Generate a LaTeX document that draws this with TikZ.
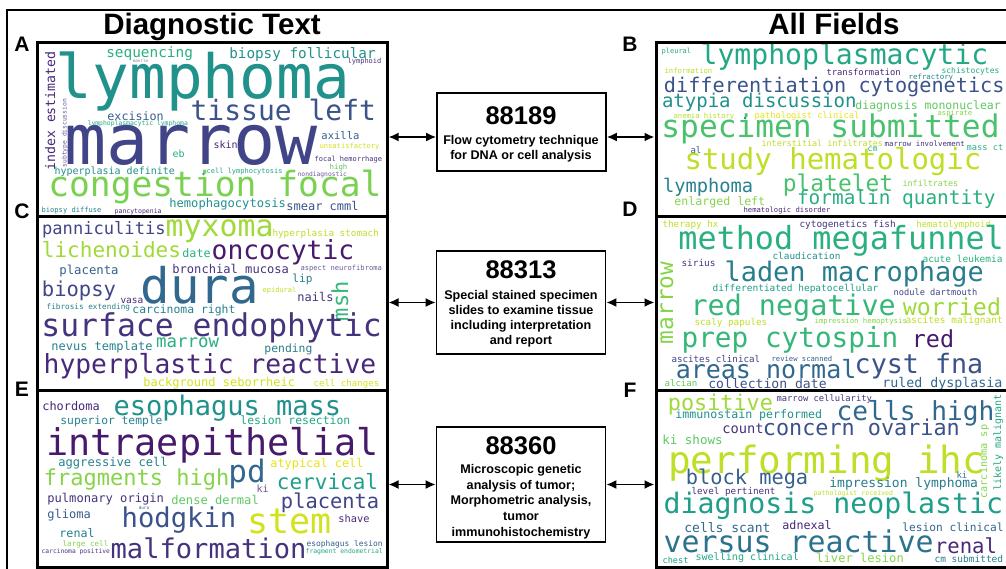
\documentclass[tikz,border=0pt]{standalone}
\usepackage{fontspec}
\setmainfont{Liberation Sans}
\newfontfamily\wcf{DejaVu Sans Mono}
\usetikzlibrary{arrows.meta}
\definecolor{vA}{HTML}{440154}
\definecolor{vB}{HTML}{481A6C}
\definecolor{vC}{HTML}{482878}
\definecolor{vD}{HTML}{46337E}
\definecolor{vE}{HTML}{414487}
\definecolor{vF}{HTML}{3B528B}
\definecolor{vG}{HTML}{355F8D}
\definecolor{vH}{HTML}{31688E}
\definecolor{vI}{HTML}{2C728E}
\definecolor{vJ}{HTML}{287D8E}
\definecolor{vK}{HTML}{26828E}
\definecolor{vL}{HTML}{21918C}
\definecolor{vM}{HTML}{1F9E89}
\definecolor{vN}{HTML}{22A884}
\definecolor{vO}{HTML}{2AB07F}
\definecolor{vP}{HTML}{35B779}
\definecolor{vQ}{HTML}{4AC16D}
\definecolor{vR}{HTML}{5EC962}
\definecolor{vS}{HTML}{7AD151}
\definecolor{vT}{HTML}{86D549}
\definecolor{vU}{HTML}{A0DA39}
\definecolor{vV}{HTML}{BDDF26}
\definecolor{vW}{HTML}{D2E21B}
\definecolor{vX}{HTML}{E5E419}
\definecolor{vY}{HTML}{FDE725}
\newcount\wcnum
\tikzset{
  wcnode/.style={anchor=base west, inner sep=0pt, outer sep=0pt},
  bline/.style={anchor=base, inner sep=0pt, outer sep=0pt},
  panel/.style={draw, line width=3pt, inner sep=0pt},
  codebox/.style={draw, line width=1.6pt, inner sep=0pt, minimum width=169pt},
  dbl/.style={line width=1.8pt, {Latex[length=10pt,width=9pt]}-{Latex[length=10pt,width=9pt]}},
  plabel/.style={anchor=base, inner sep=0pt, font=\bfseries\fontsize{21}{21}\selectfont},
  ttl/.style={anchor=base, inner sep=0pt, font=\bfseries\fontsize{29.5}{30}\selectfont}
}
\newcommand\wc[5]{\global\advance\wcnum by 1
  \node[wcnode, text=#4, font=\wcf\fontsize{#3}{#3}\selectfont] (w\the\wcnum) at ({#1-0.05*#3},{#2}) {#5};}
\newcommand\wcr[5]{\global\advance\wcnum by 1
  \node[wcnode, rotate=90, text=#4, font=\wcf\fontsize{#3}{#3}\selectfont] (w\the\wcnum) at ({#1},{#2+0.05*#3}) {#5};}
\newcommand\bl[4]{\global\advance\wcnum by 1
  \node[bline, font=\bfseries\fontsize{#3}{#3}\selectfont] (t\the\wcnum) at (#1,#2) {#4};}
\begin{document}
\begin{tikzpicture}[x=1pt,y=-1pt]
\useasboundingbox (0,0) rectangle (1006,569);
\clip (0,0) rectangle (1006,569);
\fill[white] (0,0) rectangle (1006,569);
% outer frame
\draw[line width=1.5pt] (7,575) -- (7,10) -- (1010,10);
% titles and labels
\node[ttl] (tdiag) at (212,35) {Diagnostic Text};
\node[ttl] (tall) at (834,35) {All Fields};
\node[plabel] (lA) at (22,52) {A};
\node[plabel] (lC) at (22,219) {C};
\node[plabel] (lE) at (22,396) {E};
\node[plabel] (lB) at (630,52) {B};
\node[plabel] (lD) at (630,217) {D};
\node[plabel] (lF) at (630,397) {F};
% ---------- Panel A
\wc{59}{99}{61}{vL}{lymphoma}
\wc{68}{165}{70}{vE}{marrow}
\wc{50}{197}{34.6}{vS}{congestion focal}
\wc{192}{121}{28}{vF}{tissue left}
\wc{107}{58}{14.4}{vO}{sequencing}
\wc{230}{59}{14.3}{vL}{biopsy follicular}
\wc{133}{63}{4.3}{vC!60}{mantle}
\wc{348}{64}{7}{vD}{lymphoid}
\wcr{55}{170}{13.2}{vC}{index estimated}
\wcr{66.5}{167}{6.3}{vD!80}{subtype discussion}
\wc{108}{121}{11.7}{vG}{excision}
\wc{88}{126}{6.4}{vN}{lymphoplasmacytic lymphoma}
\wc{322}{140}{10.5}{vG}{axilla}
\wc{320}{149}{7.1}{vW}{unsatisfactory}
\wc{214}{149}{10}{vC}{skin}
\wc{173}{158}{10}{vO}{eb}
\wc{315}{162}{7}{vD}{focal hemorrhage}
\wc{330}{170}{7.4}{vR}{high}
\wc{55}{175}{10}{vL}{hyperplasia definite}
\wc{207}{174}{7}{vN}{cell lymphocytosis}
\wc{298}{177}{6.3}{vD!80}{nondiagnostic}
\wc{170}{208}{12.1}{vL}{hemophagocytosis}
\wc{287}{211}{12}{vF}{smear cmml}
\wc{42}{213}{7.1}{vK}{biopsy diffuse}
\wc{115}{214}{6.5}{vC}{pancytopenia}
\fill[vN] (203.5,174) circle (1.3);
% ---------- Panel C
\wc{43}{235}{17.1}{vE}{panniculitis}
\wc{167}{237}{29.9}{vU}{myxoma}
\wc{273}{237}{9.3}{vV}{hyperplasia stomach}
\wc{43}{258}{21}{vU}{lichenoides}
\wc{183}{258}{11.7}{vO}{date}
\wc{213}{260}{26.3}{vB}{oncocytic}
\wc{60}{275}{12.3}{vG}{placenta}
\wc{173}{273}{12.1}{vD}{bronchial mucosa}
\wc{301}{270}{7.1}{vD!80}{aspect neurofibroma}
\wc{43}{296}{20.5}{vE}{biopsy}
\wc{143}{303}{49}{vH}{dura}
\wc{293}{283}{11.1}{vJ}{lip}
\wc{263}{292}{7}{vV}{epidural}
\wcr{348}{320}{22}{vP}{msh}
\wc{298}{301}{12}{vD}{nails}
\wc{121}{303}{9.5}{vC}{vasa}
\wc{47}{309}{7.7}{vK}{fibrosis extending}
\wc{133}{313}{11.4}{vK}{carcinoma right}
\wc{43}{336}{31.4}{vD}{surface endophytic}
\wc{52}{350}{12}{vK}{nevus template}
\wc{157}{347}{17.4}{vO}{marrow}
\wc{265}{352}{11.4}{vJ}{pending}
\wc{45}{373}{26.3}{vC}{hyperplastic reactive}
\wc{144}{386}{12}{vW}{background seborrheic}
\wc{314}{386}{9.1}{vW}{cell changes}
% ---------- Panel E
\wc{43}{410}{11.9}{vC}{chordoma}
\wc{115}{415}{27}{vL}{esophagus mass}
\wc{61}{424}{11.3}{vK}{superior temple}
\wc{241}{424}{11.4}{vN}{lesion resection}
\wc{48}{455}{36.8}{vB}{intraepithelial}
\wc{59}{466}{12.1}{vK}{aggressive cell}
\wc{230}{482}{31}{vH}{pd}
\wc{271}{467}{11.9}{vX}{atypical cell}
\wc{45}{485}{22}{vT}{fragments high}
\wc{278}{489}{21}{vM}{cervical}
\wc{257}{492}{10}{vC!80}{ki}
\wc{48}{502}{12.1}{vD}{pulmonary origin}
\wc{172}{504}{12.1}{vR}{dense dermal}
\wc{282}{508}{20.4}{vE}{placenta}
\wc{48}{518}{12}{vG}{glioma}
\wc{139}{509}{4.3}{vH}{dura}
\wc{123}{527}{27.2}{vF}{hodgkin}
\wc{249}{533}{35}{vW}{stem}
\wc{339}{522}{10.3}{vC}{shave}
\wc{60}{537}{11.7}{vJ}{renal}
\wc{63}{546}{7.6}{vT}{large cell}
\wc{307}{546}{7.9}{vG}{esophagus lesion}
\wc{42}{553}{6.3}{vD}{carcinoma positive}
\wc{112}{558}{27.1}{vD}{malformation}
\wc{306}{553}{6.4}{vN}{fragment endometrial}
% ---------- Panel B
\wc{662}{54}{7}{vN}{pleural}
\wc{702}{65}{28.1}{vN}{lymphoplasmacytic}
\wc{665}{74}{7.2}{vV}{information}
\wc{827}{76}{8.8}{vC}{transformation}
\wc{942}{74}{8}{vN}{schistocytes}
\wc{909}{80}{7.4}{vK}{refractory}
\wc{665}{93}{20.2}{vF}{differentiation cytogenetics}
\wc{663}{108}{19}{vL}{atypia discussion}
\wc{856}{110}{11.5}{vR}{diagnosis mononuclear}
\wc{674}{119}{7.2}{vV}{anemia history}
\wc{755}{119}{8.7}{vX}{pathologist clinical}
\wc{938}{116}{7.2}{vT}{aspirate}
\wc{663}{138}{31.2}{vQ}{specimen submitted}
\wc{762}{147}{8.4}{vV}{interstitial infiltrates}
\wc{885}{147}{7.4}{vD}{marrow involvement}
\wc{967}{151}{8.7}{vO}{mass ct}
\wc{691}{154}{9}{vG}{al}
\wc{868}{152}{8.2}{vO}{cm}
\wc{686}{170}{29}{vV}{study hematologic}
\wc{664}{193}{18.7}{vK}{lymphoma}
\wc{784}{192}{22.9}{vQ}{platelet}
\wc{903}{187}{8.4}{vT}{infiltrates}
\wc{675}{206}{11.6}{vT}{enlarged left}
\wc{798}{205}{19.4}{vO}{formalin quantity}
\wc{744}{213}{7.2}{vC}{hematologic disorder}
\fill[vL] (745,118) circle (1.5);
% ---------- Panel D
\wc{663}{228}{9.3}{vV}{therapy hx}
\wc{800}{228}{9.4}{vD}{cytogenetics fish}
\wc{917}{228}{8.8}{vV}{hematolymphoid}
\wc{680}{250}{31.8}{vO}{method megafunnel}
\wc{773}{260}{9.4}{vL}{claudication}
\wc{923}{263}{9.5}{vO}{acute leukemia}
\wc{682}{267}{9.4}{vD}{sirius}
\wcr{673}{343}{22.8}{vT}{marrow}
\wc{726}{282}{26.9}{vJ}{laden macrophage}
\wc{713}{291}{9.5}{vM}{differentiated hepatocellular}
\wc{894}{295}{8.7}{vE}{nodule dartmouth}
\wc{692}{315}{28.4}{vP}{red negative}
\wc{904}{315}{23.3}{vU}{worried}
\wc{695}{325}{9.3}{vV}{scaly papules}
\wc{815}{323}{7.3}{vT}{impression hemoptysis}
\wc{906}{323}{9.5}{vV}{ascites malignant}
\wc{683}{347}{27.7}{vP}{prep cytospin}
\wc{913}{347}{23.4}{vB}{red}
\wc{672}{362}{9.2}{vE}{ascites clinical}
\wc{772}{361}{7.2}{vG}{review scanned}
\wc{677}{378}{25}{vH}{areas normal}
\wc{856}{373}{26.7}{vF}{cyst fna}
\wc{665}{386}{9.1}{vR}{alcian}
\wc{709}{388}{13.1}{vF}{collection date}
\wc{883}{387}{13.3}{vH}{ruled dysplasia}
% ---------- Panel F
\wc{669}{410}{21.8}{vU}{positive}
\wc{777}{401}{8.8}{vD}{marrow cellularity}
\wc{838}{420}{26.2}{vH}{cells high}
\wc{676}{418}{11.6}{vL}{immunostain performed}
\wc{723}{433}{13.7}{vD}{count}
\wc{764}{435}{21.8}{vF}{concern ovarian}
\wc{663}{444}{12.5}{vR}{ki shows}
\wcr{1001}{490}{10}{vN}{likely malignant}
\wcr{987}{498}{10.2}{vT}{carcinoma sp}
\wc{670}{473}{37.6}{vV}{performing ihc}
\wc{957}{478}{9}{vJ}{ki}
\wc{687}{484}{20.3}{vG}{block mega}
\wc{830}{487}{13}{vJ}{impression lymphoma}
\wc{692}{494}{9.3}{vD}{level pertinent}
\wc{814}{495}{6.6}{vV}{pathologist received}
\wc{665}{513}{28.2}{vM}{diagnosis neoplastic}
\wc{685}{532}{13}{vH}{cells scant}
\wc{783}{529}{11.7}{vC}{adnexal}
\wc{903}{531}{11.2}{vH}{lesion clinical}
\wc{665}{552}{29.9}{vI}{versus reactive}
\wc{936}{553}{20.6}{vC}{renal}
\wc{663}{563}{8.6}{vM}{chest}
\wc{696}{560}{10.1}{vN}{swelling clinical}
\wc{817}{562}{12.1}{vT}{liver lesion}
\wc{935}{562}{9.5}{vJ}{cm submitted}
% ---------- panels
\node[panel, minimum width=350pt, minimum height=174pt] (A) at (212,130) {};
\node[panel, minimum width=350pt, minimum height=173pt] (C) at (212,303.5) {};
\node[panel, minimum width=350pt, minimum height=177pt] (E) at (212,478.5) {};
\node[panel, minimum width=356pt, minimum height=174pt] (B) at (834,130) {};
\node[panel, minimum width=356pt, minimum height=173pt] (D) at (834,303.5) {};
\node[panel, minimum width=356pt, minimum height=177pt] (F) at (834,478.5) {};
% ---------- code boxes
\node[codebox, minimum height=78pt] (b1) at (521.5,132) {};
\node[codebox, minimum height=103pt] (b2) at (521,302.5) {};
\node[codebox, minimum height=115pt] (b3) at (521,484.5) {};
\bl{521}{125}{25.5}{88189}
\bl{521}{145}{12.6}{Flow cytometry technique}
\bl{521}{160}{12.6}{for DNA or cell analysis}
\bl{521}{278}{25.5}{88313}
\bl{521}{299}{12.6}{Special stained specimen}
\bl{521}{314}{12.6}{slides to examine tissue}
\bl{521}{329}{12.6}{including interpretation}
\bl{521}{344}{12.6}{and report}
\bl{521}{454}{25.5}{88360}
\bl{521}{473}{12.6}{Microscopic genetic}
\bl{521}{489}{12.6}{analysis of tumor;}
\bl{521}{504}{12.6}{Morphometric analysis,}
\bl{521}{520}{12.6}{tumor}
\bl{521}{536}{12.6}{immunohistochemistry}
% ---------- connectors
\coordinate (p1) at ([yshift=-5pt]b1.west);
\coordinate (q1) at ([yshift=-5pt]b1.east);
\draw[dbl] (A.east |- p1) -- (p1);
\draw[dbl] (q1) -- (B.west |- q1);
\draw[dbl] (C.east |- b2.west) -- (b2.west);
\draw[dbl] (b2.east) -- (D.west |- b2.east);
\draw[dbl] (E.east |- b3.west) -- (b3.west);
\draw[dbl] (b3.east) -- (F.west |- b3.east);
\end{tikzpicture}
\end{document}
